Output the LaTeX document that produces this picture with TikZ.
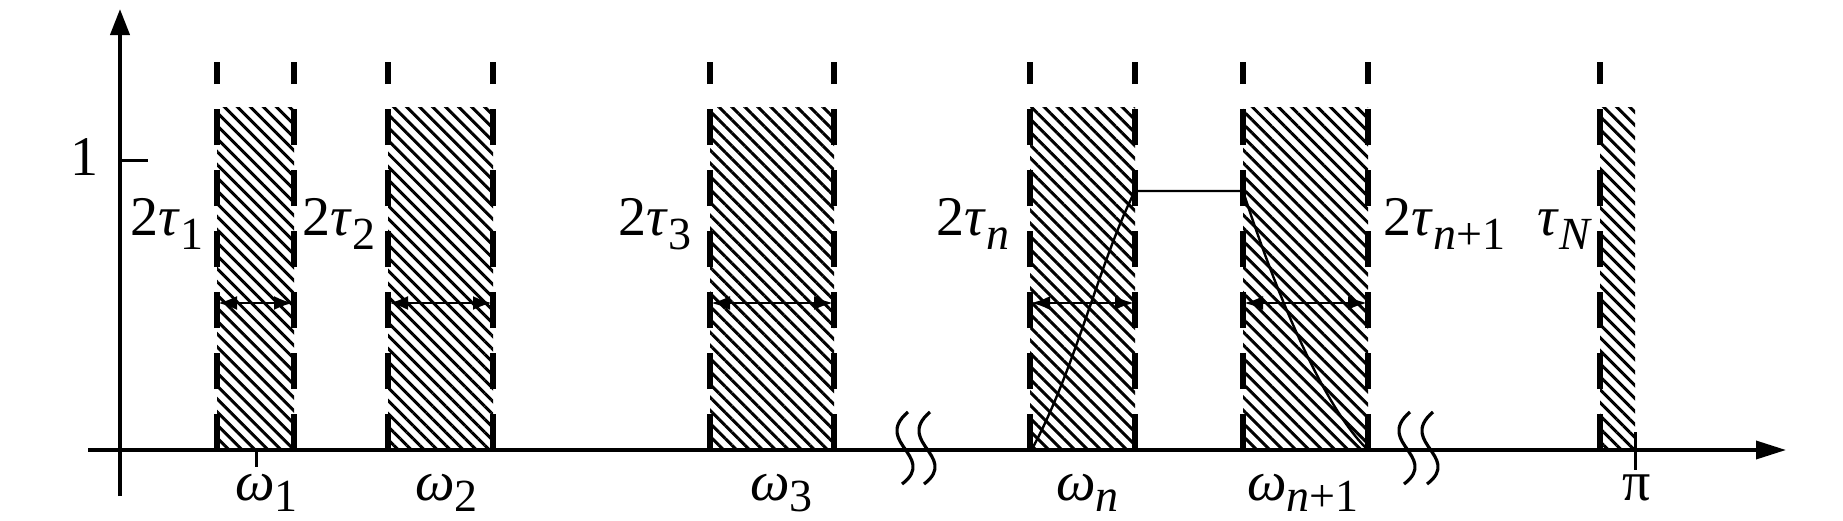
\documentclass[tikz,border=0pt]{standalone}
\usepackage{fontspec}
\setmainfont{Liberation Serif}
\usetikzlibrary{patterns.meta,arrows.meta}
\newcommand{\mysub}[1]{\raisebox{-7pt}[0pt][0pt]{\fontsize{23}{23}\selectfont #1}}
\newcommand{\mysubw}[1]{\raisebox{-5.5pt}[0pt][0pt]{\fontsize{23}{23}\selectfont #1}}
\begin{document}
\begin{tikzpicture}[x=0.5pt,y=-0.5pt,
  lab/.style={inner sep=0pt, anchor=base west, font=\fontsize{28}{30}\selectfont},
  tickline/.style={line width=1.5pt},
  edgeline/.style={line width=3pt, dash pattern=on 18pt off 12.5pt},
  hatch/.style={pattern={Lines[angle=-45,distance=4.6pt,line width=1.5pt]}},
  widtharrow/.style={line width=1.3pt, {Latex[length=9.5pt,width=7pt]}-{Latex[length=9.5pt,width=7pt]}},
  response/.style={line width=1.2pt},
  brk/.style={line width=1.6pt},
]
\useasboundingbox (0,0) rectangle (1843,520);
% bands
\foreach \L/\R [count=\i] in {217/294, 388/493, 710/834, 1030/1135, 1243/1368} {
  \fill[hatch] (\L,107) rectangle (\R,450);
  \draw[edgeline] (\L,450) -- (\L,62);
  \draw[edgeline] (\R,450) -- (\R,62);
  \coordinate (a\i) at (\L+1,303);
  \coordinate (b\i) at (\R-1,303);
  \draw[widtharrow] (a\i) -- (b\i);
}
\fill[hatch] (1600,107) rectangle (1635,450);
\draw[edgeline] (1600,450) -- (1600,62);
% axes
\draw[line width=2pt,-{Triangle[length=13pt,width=9.5pt]}] (120,496) -- (120,9);
\draw[line width=1.75pt,-{Triangle[length=15pt,width=9pt]}] (88,450) -- (1786,450);
% ticks
\draw[tickline] (120,160) -- (148,160);
\draw[tickline] (256,450) -- (256,467);
\draw[tickline] (1635,432) -- (1635,470);
% response curve
\draw[response] (1032,449) .. controls (1075,370) and (1100,260) .. (1135,191) -- (1243,191) .. controls (1275,290) and (1322,405) .. (1367,449);
% breaks
\foreach \x in {905,927,1407,1430}
  \draw[brk] (\x+3,412) .. controls (\x-16,428) and (\x-6,440) .. (\x,449) .. controls (\x+6,458) and (\x+16,470) .. (\x-3,484);
% labels
\node[lab, anchor=base east] (one) at (99,175) {1};
\node[lab] (t1) at (130,235) {2\textit{τ}\mysub{1}};
\node[lab] (t2) at (302,235) {2\textit{τ}\mysub{2}};
\node[lab] (t3) at (618,235) {2\textit{τ}\mysub{3}};
\node[lab] (tn) at (936,235) {2\textit{τ}\mysub{\textit{n}}};
\node[lab] (tn1) at (1383,235) {2\textit{τ}\mysub{\textit{n}+1}};
\node[lab] (tN) at (1537,235) {\textit{τ}\mysub{\textit{N}}};
\node[lab] (w1) at (235,500) {\textit{ω}\mysubw{1}};
\node[lab] (w2) at (415,500) {\textit{ω}\mysubw{2}};
\node[lab] (w3) at (750,500) {\textit{ω}\mysubw{3}};
\node[lab] (wn) at (1056,500) {\textit{ω}\mysubw{\textit{n}}};
\node[lab] (wn1) at (1247,500) {\textit{ω}\mysubw{\textit{n}+1}};
\node[lab] (pi) at (1622,500) {π};
\end{tikzpicture}
\end{document}
